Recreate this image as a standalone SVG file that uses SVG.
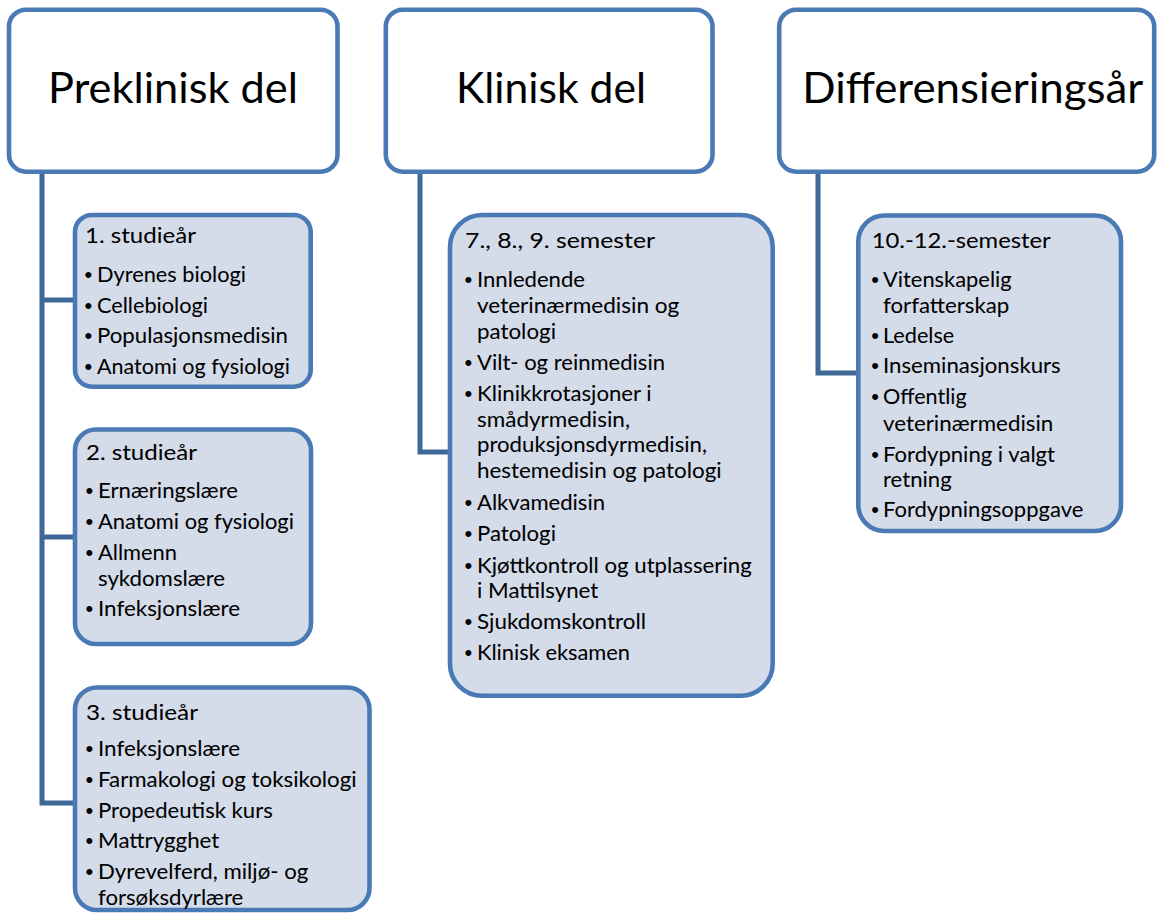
<svg xmlns="http://www.w3.org/2000/svg" width="1157" height="916" viewBox="0 0 1157 916">
  <style>
    .top { fill: #ffffff; stroke: #4A7AB5; stroke-width: 4.6; }
    .sub { fill: #D4DBE9; stroke: #4A7AB5; stroke-width: 4.6; }
    .conn { fill: none; stroke: #3F6898; stroke-width: 5; stroke-linejoin: miter; }
    text { font-family: Lato, "Open Sans", "Liberation Sans", sans-serif; fill: #000000; }
    .h1 { font-size: 42px; }
    .t { font-size: 21.5px; stroke: #000000; stroke-width: 0.05px; }
    .b { font-family: "Liberation Sans", Arial, sans-serif; font-size: 22px; }
  </style>

  <!-- connectors: each phase box feeds its list boxes -->
  <g id="connectors">
    <path class="conn" d="M42 172 V803 H75 M42 300 H75 M42 537 H75"/>
    <path class="conn" d="M420 172 V452 H450"/>
    <path class="conn" d="M818 172 V373 H858"/>
  </g>

  <!-- phase headers -->
  <g id="preklinisk">
    <rect class="top" x="9" y="9.7" width="328.5" height="162" rx="17"/>
    <text class="h1" x="48" y="103.3" textLength="250" lengthAdjust="spacingAndGlyphs">Preklinisk del</text>
  </g>
  <g id="klinisk">
    <rect class="top" x="385.8" y="9.7" width="326.7" height="162" rx="17"/>
    <text class="h1" x="456" y="103.3" textLength="190" lengthAdjust="spacingAndGlyphs">Klinisk del</text>
  </g>
  <g id="differensiering">
    <rect class="top" x="779.2" y="9.7" width="375" height="162" rx="17"/>
    <text class="h1" x="802.3" y="103.3" textLength="341" lengthAdjust="spacingAndGlyphs">Differensieringsår</text>
  </g>

  <!-- 1. studieår -->
  <g id="aar1">
    <rect class="sub" x="75" y="215" width="235.7" height="171.7" rx="17"/>
    <text class="t" x="85" y="243" textLength="111" lengthAdjust="spacingAndGlyphs">1. studieår</text>
    <text class="t b" x="84.5" y="281.7">•</text>
    <text class="t" x="97" y="281.7" textLength="149" lengthAdjust="spacingAndGlyphs">Dyrenes biologi</text>
    <text class="t b" x="84.5" y="312.7">•</text>
    <text class="t" x="97" y="312.7" textLength="111" lengthAdjust="spacingAndGlyphs">Cellebiologi</text>
    <text class="t b" x="84.5" y="343.3">•</text>
    <text class="t" x="97" y="343.3" textLength="191" lengthAdjust="spacingAndGlyphs">Populasjonsmedisin</text>
    <text class="t b" x="84.5" y="374">•</text>
    <text class="t" x="97" y="374" textLength="193" lengthAdjust="spacingAndGlyphs">Anatomi og fysiologi</text>
  </g>

  <!-- 2. studieår -->
  <g id="aar2">
    <rect class="sub" x="75" y="429.5" width="236" height="214.5" rx="21"/>
    <text class="t" x="86" y="460" textLength="111" lengthAdjust="spacingAndGlyphs">2. studieår</text>
    <text class="t b" x="85.5" y="498.3">•</text>
    <text class="t" x="98" y="498.3" textLength="140" lengthAdjust="spacingAndGlyphs">Ernæringslære</text>
    <text class="t b" x="85.5" y="529.3">•</text>
    <text class="t" x="98" y="529.3" textLength="196" lengthAdjust="spacingAndGlyphs">Anatomi og fysiologi</text>
    <text class="t b" x="85.5" y="560">•</text>
    <text class="t" x="98" y="560" textLength="79" lengthAdjust="spacingAndGlyphs">Allmenn</text>
    <text class="t" x="98" y="585.7" textLength="127" lengthAdjust="spacingAndGlyphs">sykdomslære</text>
    <text class="t b" x="85.5" y="616">•</text>
    <text class="t" x="98" y="616" textLength="142" lengthAdjust="spacingAndGlyphs">Infeksjonslære</text>
  </g>

  <!-- 3. studieår -->
  <g id="aar3">
    <rect class="sub" x="75" y="687.5" width="294.5" height="222.5" rx="22"/>
    <text class="t" x="86" y="720" textLength="112" lengthAdjust="spacingAndGlyphs">3. studieår</text>
    <text class="t b" x="85.5" y="756">•</text>
    <text class="t" x="98" y="756" textLength="142" lengthAdjust="spacingAndGlyphs">Infeksjonslære</text>
    <text class="t b" x="85.5" y="786.7">•</text>
    <text class="t" x="98" y="786.7" textLength="258.7" lengthAdjust="spacingAndGlyphs">Farmakologi og toksikologi</text>
    <text class="t b" x="85.5" y="817.7">•</text>
    <text class="t" x="98" y="817.7" textLength="174.7" lengthAdjust="spacingAndGlyphs">Propedeutisk kurs</text>
    <text class="t b" x="85.5" y="848.3">•</text>
    <text class="t" x="98" y="848.3" textLength="121.3" lengthAdjust="spacingAndGlyphs">Mattrygghet</text>
    <text class="t b" x="85.5" y="879">•</text>
    <text class="t" x="98" y="879" textLength="210.3" lengthAdjust="spacingAndGlyphs">Dyrevelferd, miljø- og</text>
    <text class="t" x="98" y="905" textLength="145.3" lengthAdjust="spacingAndGlyphs">forsøksdyrlære</text>
  </g>

  <!-- 7.-9. semester -->
  <g id="semester7-9">
    <rect class="sub" x="450" y="215" width="322.7" height="480.7" rx="32"/>
    <text class="t" x="465" y="248.3" textLength="190" lengthAdjust="spacingAndGlyphs">7., 8., 9. semester</text>
    <text class="t b" x="464.5" y="287.3">•</text>
    <text class="t" x="477" y="287.3" textLength="108" lengthAdjust="spacingAndGlyphs">Innledende</text>
    <text class="t" x="477" y="313.3" textLength="202.3" lengthAdjust="spacingAndGlyphs">veterinærmedisin og</text>
    <text class="t" x="477" y="338.5" textLength="79" lengthAdjust="spacingAndGlyphs">patologi</text>
    <text class="t b" x="464.5" y="370">•</text>
    <text class="t" x="477" y="370" textLength="188" lengthAdjust="spacingAndGlyphs">Vilt- og reinmedisin</text>
    <text class="t b" x="464.5" y="400.5">•</text>
    <text class="t" x="477" y="400.5" textLength="174.7" lengthAdjust="spacingAndGlyphs">Klinikkrotasjoner i</text>
    <text class="t" x="477" y="426.5" textLength="153" lengthAdjust="spacingAndGlyphs">smådyrmedisin,</text>
    <text class="t" x="477" y="452.3" textLength="230" lengthAdjust="spacingAndGlyphs">produksjonsdyrmedisin,</text>
    <text class="t" x="477" y="478.3" textLength="244.7" lengthAdjust="spacingAndGlyphs">hestemedisin og patologi</text>
    <text class="t b" x="464.5" y="510">•</text>
    <text class="t" x="477" y="510" textLength="128" lengthAdjust="spacingAndGlyphs">Alkvamedisin</text>
    <text class="t b" x="464.5" y="540.7">•</text>
    <text class="t" x="477" y="540.7" textLength="79" lengthAdjust="spacingAndGlyphs">Patologi</text>
    <text class="t b" x="464.5" y="572.5">•</text>
    <text class="t" x="477" y="572.5" textLength="274.7" lengthAdjust="spacingAndGlyphs">Kjøttkontroll og utplassering</text>
    <text class="t" x="477" y="598.3" textLength="121.3" lengthAdjust="spacingAndGlyphs">i Mattilsynet</text>
    <text class="t b" x="464.5" y="629.3">•</text>
    <text class="t" x="477" y="629.3" textLength="169" lengthAdjust="spacingAndGlyphs">Sjukdomskontroll</text>
    <text class="t b" x="464.5" y="660">•</text>
    <text class="t" x="477" y="660" textLength="153" lengthAdjust="spacingAndGlyphs">Klinisk eksamen</text>
  </g>

  <!-- 10.-12. semester -->
  <g id="semester10-12">
    <rect class="sub" x="858.3" y="215.5" width="262.7" height="315.5" rx="26"/>
    <text class="t" x="871.7" y="248.3" textLength="179" lengthAdjust="spacingAndGlyphs">10.-12.-semester</text>
    <text class="t b" x="871.2" y="287.3">•</text>
    <text class="t" x="883" y="287.3" textLength="128.7" lengthAdjust="spacingAndGlyphs">Vitenskapelig</text>
    <text class="t" x="883" y="312.5" textLength="126.3" lengthAdjust="spacingAndGlyphs">forfatterskap</text>
    <text class="t b" x="871.2" y="342.7">•</text>
    <text class="t" x="883" y="342.7" textLength="71.3" lengthAdjust="spacingAndGlyphs">Ledelse</text>
    <text class="t b" x="871.2" y="373.3">•</text>
    <text class="t" x="883" y="373.3" textLength="177.7" lengthAdjust="spacingAndGlyphs">Inseminasjonskurs</text>
    <text class="t b" x="871.2" y="404">•</text>
    <text class="t" x="883" y="404" textLength="83.7" lengthAdjust="spacingAndGlyphs">Offentlig</text>
    <text class="t" x="883" y="430.7" textLength="170.3" lengthAdjust="spacingAndGlyphs">veterinærmedisin</text>
    <text class="t b" x="871.2" y="461.7">•</text>
    <text class="t" x="883" y="461.7" textLength="172" lengthAdjust="spacingAndGlyphs">Fordypning i valgt</text>
    <text class="t" x="883" y="486.7" textLength="68.7" lengthAdjust="spacingAndGlyphs">retning</text>
    <text class="t b" x="871.2" y="517.3">•</text>
    <text class="t" x="883" y="517.3" textLength="200.3" lengthAdjust="spacingAndGlyphs">Fordypningsoppgave</text>
  </g>
</svg>
